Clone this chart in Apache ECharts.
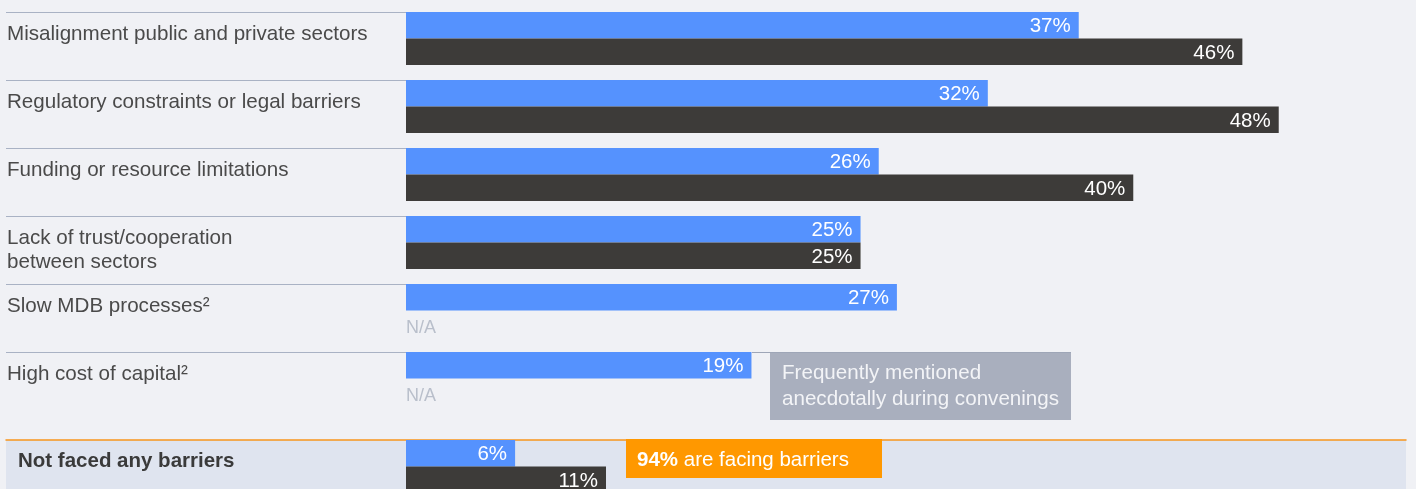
<!DOCTYPE html>
<html>
<head>
<meta charset="utf-8">
<script src="https://cdn.jsdelivr.net/npm/echarts@6/dist/echarts.min.js"></script>
<style>
  html, body { margin: 0; padding: 0; background: #f0f1f5; }
  #chart { width: 1416px; height: 489px; }
</style>
</head>
<body>
<div id="chart"></div>
<script>
// ---- data ----
const categories = [
  'Misalignment public and private sectors',
  'Regulatory constraints or legal barriers',
  'Funding or resource limitations',
  'Lack of trust/cooperation\nbetween sectors',
  'Slow MDB processes\u00b2',
  'High cost of capital\u00b2'
];
const blueValues = [37, 32, 26, 25, 27, 19];
const darkValues = [46, 48, 40, 25, null, null];

const bottomCategory = ['Not faced any barriers'];
const bottomBlue = [6];
const bottomDark = [11];

const greyNote = 'Frequently mentioned\nanecdotally during convenings';
const orangeBold = '94%';
const orangeRest = ' are facing barriers';

// ---- style ----
const FONT = "'Liberation Sans', Arial, Helvetica, sans-serif";
const BLUE = '#5592fe';
const DARK = '#3d3b39';
const SEP = '#a9b2c4';

const valueLabel = {
  show: true, position: 'insideRight', distance: 8, offset: [0, 1.5],
  color: '#ffffff', fontSize: 20.5, fontFamily: FONT,
  formatter: p => p.value + '%'
};

function darkData(arr) {
  return arr.map(v => v == null
    ? { value: 0, label: { show: true, position: 'insideLeft', distance: 0, formatter: 'N/A',
        color: '#b9bfcb', fontSize: 18, fontFamily: FONT, offset: [0, 4] } }
    : v);
}

// single-line labels get an empty second line so the first line sits at the band top
function catLabel(c) { return c.indexOf('\n') >= 0 ? c : c + '\n'; }

const chart = echarts.init(document.getElementById('chart'), null, { renderer: 'canvas' });

const option = {
  backgroundColor: '#f0f1f5',
  animation: false,
  grid: [
    { left: 406, right: 10, top: 12, height: 408, outerBoundsMode: 'none' },
    { left: 6, right: 10, top: 440, height: 68, show: true, backgroundColor: '#dfe4ef', borderWidth: 0,
      outerBoundsMode: 'none' }
  ],
  xAxis: [
    { gridIndex: 0, type: 'value', min: 0, max: 55, show: false },
    { gridIndex: 1, type: 'value', min: -22, max: 55, position: 'top',
      axisLine: { show: true, lineStyle: { color: '#f7951d', width: 1.5 } },
      axisLabel: { show: false }, axisTick: { show: false }, splitLine: { show: false } }
  ],
  yAxis: [
    { gridIndex: 0, type: 'category', data: categories, inverse: true,
      axisLine: { show: false }, axisTick: { show: false }, splitLine: { show: false },
      axisLabel: { align: 'left', margin: 399, color: '#4a4a4a', fontSize: 20.6, fontFamily: FONT,
        lineHeight: 24, formatter: catLabel } },
    { gridIndex: 1, type: 'category', data: bottomCategory, inverse: true,
      axisLine: { show: false, onZero: false }, axisTick: { show: false }, splitLine: { show: false },
      axisLabel: { inside: true, margin: 12, color: '#3a3a3a', fontSize: 20.5, fontWeight: 'bold',
        fontFamily: FONT, lineHeight: 25, formatter: catLabel } }
  ],
  series: [
    { name: 'Blue', type: 'bar', xAxisIndex: 0, yAxisIndex: 0, data: blueValues,
      barWidth: 26.5, barGap: 0, itemStyle: { color: BLUE }, label: valueLabel },
    { name: 'Dark', type: 'bar', xAxisIndex: 0, yAxisIndex: 0, data: darkData(darkValues),
      barWidth: 26.5, barGap: 0, itemStyle: { color: DARK }, label: valueLabel },
    { name: 'spacer', type: 'bar', xAxisIndex: 0, yAxisIndex: 0, data: [], barWidth: 15, barGap: 0, silent: true },
    { name: 'separators', type: 'custom', xAxisIndex: 0, yAxisIndex: 0, clip: false, silent: true, z: 1,
      data: categories.map((c, i) => [0, i]),
      renderItem: function (params, api) {
        const p = api.coord([0, api.value(1)]);
        const band = api.size([0, 1])[1];
        const y = Math.round(p[1] - band / 2) + 0.5;
        return { type: 'line', shape: { x1: 6, y1: y, x2: p[0], y2: y },
          style: { stroke: SEP, lineWidth: 1 } };
      } },

    { name: 'Blue', type: 'bar', xAxisIndex: 1, yAxisIndex: 1, data: bottomBlue,
      barWidth: 26.5, barGap: 0, itemStyle: { color: BLUE }, label: valueLabel },
    { name: 'Dark', type: 'bar', xAxisIndex: 1, yAxisIndex: 1, data: bottomDark,
      barWidth: 26.5, barGap: 0, itemStyle: { color: DARK }, label: valueLabel },
    { name: 'spacer', type: 'bar', xAxisIndex: 1, yAxisIndex: 1, data: [], barWidth: 15, barGap: 0, silent: true }
  ],
  graphic: [
    { type: 'line', shape: { x1: 752, y1: 352.5, x2: 1071, y2: 352.5 }, style: { stroke: '#9ea6b7', lineWidth: 1 }, z: 5 },
    { type: 'rect', shape: { x: 770, y: 353, width: 301, height: 67 }, style: { fill: '#a9afbe' }, z: 5 },
    { type: 'text', x: 782, y: 386, z: 6,
      style: { text: greyNote, fill: '#f3f4f7', fontSize: 20.6, fontFamily: FONT, lineHeight: 26,
        verticalAlign: 'middle', align: 'left' } },
    { type: 'rect', shape: { x: 626, y: 439, width: 256, height: 39 }, style: { fill: '#ff9800' }, z: 5 },
    { type: 'text', x: 637, y: 460, z: 6,
      style: { text: '{b|' + orangeBold + '}{r|' + orangeRest + '}', verticalAlign: 'middle', align: 'left',
        rich: {
          b: { fill: '#ffffff', fontSize: 20.5, fontWeight: 'bold', fontFamily: FONT },
          r: { fill: '#ffffff', fontSize: 20.5, fontFamily: FONT }
        } } }
  ]
};

chart.setOption(option);
</script>
</body>
</html>
